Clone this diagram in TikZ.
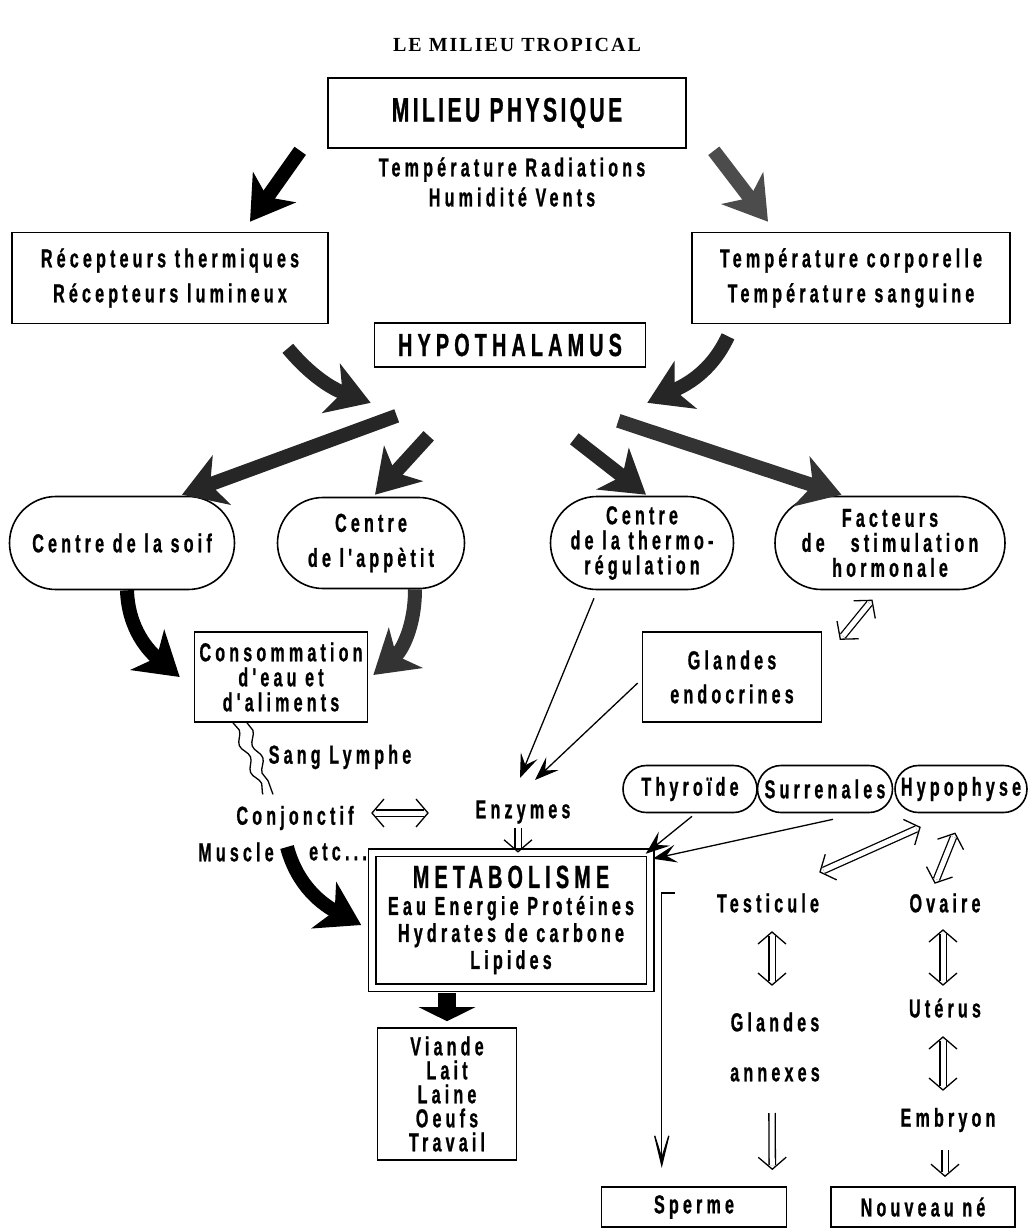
\documentclass[tikz,border=0pt]{standalone}
\usepackage{fontspec}
\newfontfamily\diagfont{Liberation Sans}[FakeStretch=0.62,LetterSpace=16,FakeBold=0.8]
\newfontfamily\headfont{Liberation Sans}[FakeStretch=0.62,LetterSpace=10,FakeBold=0.8]
\newfontfamily\titlefont{Liberation Serif}[LetterSpace=10]
\usetikzlibrary{positioning,arrows.meta,shapes.misc,decorations.pathmorphing,decorations.markings}

\begin{document}
\begin{tikzpicture}[x=1pt,y=1pt,
    box/.style={draw, line width=1.6pt, inner sep=0pt},
    oval/.style={draw, rounded rectangle, line width=1.6pt, inner sep=0pt},
    txt/.style={font=\diagfont\bfseries\fontsize{26}{#1}\selectfont, align=center},
    txt/.default=35,
    fat/.style={line width=14pt, -{Stealth[length=42pt,width=52pt,inset=12pt]}},
    thin/.style={line width=1.3pt, -{Stealth[length=24pt,width=18pt,inset=10pt]}},
    shaft/.style={preaction={draw, double, double distance=5pt, line width=1.3pt, shorten <=#1, shorten >=4pt}, draw=none},
    hollow/.style={shaft=4pt, postaction={decorate, decoration={markings,
        mark=at position 0 with {\draw[line width=1.3pt] (12pt,14pt) -- (0,0) -- (12pt,-14pt);},
        mark=at position 1 with {\draw[line width=1.3pt] (-12pt,14pt) -- (0,0) -- (-12pt,-14pt);}}}},
    hollowdown/.style={shaft=0pt, postaction={decorate, decoration={markings,
        mark=at position 1 with {\draw[line width=1.3pt] (-12pt,14pt) -- (0,0) -- (-12pt,-14pt);}}}}]
    \useasboundingbox (0,0) rectangle (1033,-1232);

    %% Title
    \node[font=\titlefont\bfseries\fontsize{20}{22}\selectfont] (title) at (517,-45) {LE MILIEU TROPICAL};

    %% Boxes
    % physical environment and receptors
    \node[box, minimum width=358pt, minimum height=70pt, font=\headfont\bfseries\fontsize{34}{36}\selectfont] (mp) at (507,-113) {MILIEU PHYSIQUE};
    \node[txt=30] (mptxt) at (512,-182) {Température Radiations\\Humidité Vents};
    \node[box, txt, minimum width=316pt, minimum height=91pt] (rec) at (170,-278) {Récepteurs thermiques\\Récepteurs lumineux};
    \node[box, txt, minimum width=318pt, minimum height=91pt] (temp) at (851,-278) {Température corporelle\\Température sanguine};
    \node[box, minimum width=271pt, minimum height=44pt, font=\diagfont\bfseries\fontsize{32}{34}\selectfont] (hyp) at (510,-345) {HYPOTHALAMUS};

    % hypothalamic centres
    \node[oval, txt, minimum width=225pt, minimum height=93pt] (soif) at (122,-543) {Centre de la soif};
    \node[oval, txt, minimum width=187pt, minimum height=91pt] (app) at (371,-543) {Centre\\de l'appètit};
    \node[oval, txt=25, minimum width=183pt, minimum height=93pt] (thermo) at (642,-543) {Centre\\de la thermo-\\régulation};
    \node[oval, txt=25, minimum width=230pt, minimum height=93pt] (fact) at (890,-543) {Facteurs\\de\quad stimulation\\hormonale};

    % intake and glands
    \node[box, txt=25, minimum width=173pt, minimum height=90pt] (cons) at (281,-677) {Consommation\\d'eau et\\d'aliments};
    \node[box, txt=34, minimum width=179pt, minimum height=90pt] (gland) at (732,-677) {Glandes\\endocrines};

    % tissues and enzymes
    \node[txt] (sang) at (340,-757) {Sang Lymphe};
    \node[txt] (conj) at (295,-818) {Conjonctif};
    \node[txt] (musc) at (236,-852) {Muscle};
    \node[txt] (etc) at (338,-852) {etc\,...};
    \node[txt] (enz) at (523,-812) {Enzymes};

    % metabolism and products
    \node[draw, double, double distance=6pt, line width=1.5pt, minimum width=278pt, minimum height=135pt, txt=27] (met) at (511,-920)
        {{\fontsize{32}{32}\selectfont METABOLISME}\\Eau Energie Protéines\\Hydrates de carbone\\Lipides};
    \node[box, txt=24, minimum width=139pt, minimum height=132pt] (prod) at (447,-1094) {Viande\\Lait\\Laine\\Oeufs\\Travail};

    % endocrine glands
    \node[oval, txt, minimum width=134pt, minimum height=47pt] (thy) at (690,-789) {Thyroïde};
    \node[oval, txt, minimum width=135pt, minimum height=47pt] (sur) at (825,-789) {Surrenales};
    \node[oval, txt, minimum width=132pt, minimum height=47pt] (hypo) at (961,-789) {Hypophyse};

    % reproduction
    \node[txt] (testi) at (768,-903) {Testicule};
    \node[txt] (ovaire) at (945,-903) {Ovaire};
    \node[txt=50] (annex) at (775,-1047) {Glandes\\annexes};
    \node[txt] (uterus) at (945,-1008) {Utérus};
    \node[txt] (embryon) at (948,-1120) {Embryon};
    \node[box, txt, minimum width=185pt, minimum height=40pt] (sperme) at (694,-1207) {Sperme};
    \node[box, txt, minimum width=184pt, minimum height=40pt] (nouv) at (923,-1207) {Nouveau né};

    %% Connections
    % big arrows from the environment
    \draw[fat] ([shift={(-27,-2)}]mp.south west) -- ([shift={(80,10)}]rec.north);
    \draw[fat, draw=black!70] ([shift={(27,-2)}]mp.south east) -- ([shift={(-83,10)}]temp.north);
    \draw[fat, draw=black!85] ([shift={(-41,-24)}]rec.south east) to[out=-50, in=160] ([shift={(-3,-35)}]hyp.south west);
    \draw[fat, draw=black!85] ([shift={(-123,-12)}]temp.south) to[out=-115, in=25] ([shift={(1,-35)}]hyp.south east);

    % hypothalamus to the centres
    \draw[fat, draw=black!85] ([shift={(23,-48)}]hyp.south west) -- ([shift={(-6,1)}]soif.north east);
    \draw[fat, draw=black!85] ([shift={(55,-68)}]hyp.south west) -- ([shift={(4,2)}]app.north);
    \draw[fat, draw=black!85] ([shift={(-72,-71)}]hyp.south east) -- ([shift={(4,1)}]thermo.north);
    \draw[fat, draw=black!80] ([shift={(-28,-53)}]hyp.south east) -- ([shift={(20,1)}]fact.north west);

    % centres to intake
    \draw[fat] ([shift={(5,0)}]soif.south) to[out=-88, in=140] ([shift={(-14,0)}]cons.west);
    \draw[fat, draw=black!80] ([shift={(44,0)}]app.south) to[out=-90, in=40] ([shift={(5,2)}]cons.east);

    % blood and lymph
    \draw[line width=1.3pt, decorate, decoration={snake, amplitude=3pt, segment length=29pt}] ([shift={(-48,0)}]cons.south) -- ([shift={(-32,8)}]conj.north);
    \draw[line width=1.3pt, decorate, decoration={snake, amplitude=3pt, segment length=29pt}] ([shift={(-34,0)}]cons.south) -- ([shift={(-22,8)}]conj.north);
    \draw[hollow] ([shift={(77,5)}]conj.center) -- ([shift={(-95,-1)}]enz.center);
    \draw[hollowdown] ([shift={(-5,-16)}]enz.center) -- ([shift={(7,0)}]met.north);
    \draw[fat] ([shift={(51,5)}]musc.center) to[out=-75, in=152] ([shift={(-10,-5)}]met.west);

    % regulation towards the enzymes
    \draw[thin] ([shift={(-48,-8)}]thermo.south) -- ([shift={(-3,34)}]enz.center);
    \draw[thin] ([shift={(-4,-6)}]gland.west) -- ([shift={(12,32)}]enz.center);
    \draw[hollow] ([shift={(18,-8)}]gland.north east) -- ([shift={(-18,-10)}]fact.south);

    % glands to metabolism
    \draw[thin] ([shift={(2,-3)}]thy.south) -- ([shift={(-5,-2)}]met.north east);
    \draw[thin] ([shift={(8,-6)}]sur.south) -- ([shift={(2,-7)}]met.north east);

    % products
    \draw[line width=18pt, -{Triangle[length=14pt,width=56pt]}, shorten <=5pt, shorten >=6pt] (prod.north |- met.south) -- (prod.north);
    \draw[line width=1.3pt, -{Stealth[length=50pt,width=24pt,inset=38pt]}] ([shift={(24,27)}]met.east) -- ++(-13,0) -- ++(0,-275);

    % reproduction chain
    \draw[hollow] ([shift={(-41,-14)}]hypo.south) -- ([shift={(52,31)}]testi.center);
    \draw[hollow] ([shift={(-6,-20)}]hypo.south) -- ([shift={(-10,20)}]ovaire.center);
    \draw[hollow] ([shift={(4,-29)}]testi.center) -- ([shift={(-3,62)}]annex.center);
    \draw[hollow] ([shift={(-2,-27)}]ovaire.center) -- ([shift={(-2,23)}]uterus.center);
    \draw[hollow] ([shift={(-2,-29)}]uterus.center) -- ([shift={(-5,30)}]embryon.center);
    \draw[hollowdown] ([shift={(-3,-66)}]annex.center) -- ([shift={(-15,17)}]sperme.north east);
    \draw[hollowdown] ([shift={(-3,-30)}]embryon.center) -- ([shift={(22,10)}]nouv.north);
\end{tikzpicture}
\end{document}
